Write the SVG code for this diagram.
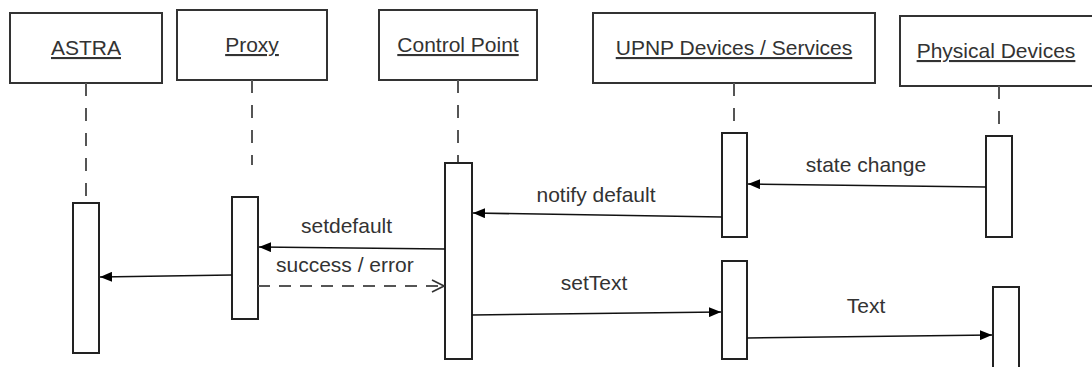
<svg xmlns="http://www.w3.org/2000/svg" width="1092" height="367" viewBox="0 0 1092 367">
<style>
.hdr{fill:#fff;stroke:#333;stroke-width:2}
.act{fill:#fff;stroke:#222;stroke-width:2}
.life{stroke:#555;stroke-width:2;stroke-dasharray:13 12;fill:none}
.lbl{font-family:"Liberation Sans",Arial,sans-serif;font-size:21px;fill:#333}
.hl{text-decoration:underline;text-anchor:middle}
.msg{stroke:#111;stroke-width:1.6;fill:none}
.ret{stroke:#555;stroke-width:1.8;fill:none;stroke-dasharray:12 9}
</style>
<defs>
<marker id="filled" viewBox="0 0 12 10" refX="12" refY="5" markerWidth="12" markerHeight="10" markerUnits="userSpaceOnUse" orient="auto">
<path d="M0,0 L12,5 L0,10 Z" fill="#000"/>
</marker>
<marker id="open" viewBox="0 0 14 14" refX="13" refY="7" markerWidth="14" markerHeight="14" markerUnits="userSpaceOnUse" orient="auto">
<path d="M1,1 L13,7 L1,13" fill="none" stroke="#333" stroke-width="1.6"/>
</marker>
</defs>

<g id="astra">
<rect class="hdr" x="10" y="13" width="152" height="70"/>
<text class="lbl hl" x="86" y="55">ASTRA</text>
<line class="life" x1="86" y1="83" x2="86" y2="203"/>
<rect class="act" x="73" y="203" width="26" height="150"/>
</g>

<g id="proxy">
<rect class="hdr" x="177" y="10" width="150" height="70"/>
<text class="lbl hl" x="252" y="52">Proxy</text>
<line class="life" x1="252" y1="80" x2="252" y2="165"/>
<rect class="act" x="232" y="197" width="26" height="122"/>
</g>

<g id="control-point">
<rect class="hdr" x="379" y="10" width="158" height="70"/>
<text class="lbl hl" x="458" y="52">Control Point</text>
<line class="life" x1="458" y1="80" x2="458" y2="163"/>
<rect class="act" x="445" y="163" width="27" height="196"/>
</g>

<g id="upnp">
<rect class="hdr" x="593" y="13" width="282" height="70"/>
<text class="lbl hl" x="734" y="55">UPNP Devices / Services</text>
<line class="life" x1="734" y1="83" x2="734" y2="133"/>
<rect class="act" x="722" y="133" width="25" height="104"/>
<rect class="act" x="722" y="261" width="25" height="98"/>
</g>

<g id="physical">
<rect class="hdr" x="900" y="16" width="200" height="70"/>
<text class="lbl hl" x="996" y="58">Physical Devices</text>
<line class="life" x1="999" y1="86" x2="999" y2="136"/>
<rect class="act" x="986" y="136" width="26" height="101"/>
<rect class="act" x="993" y="287" width="26" height="90"/>
</g>

<g id="connectors">
<line class="msg" x1="986" y1="187" x2="748" y2="184" marker-end="url(#filled)"/>
<text class="lbl" x="866" y="172" text-anchor="middle">state change</text>

<line class="msg" x1="722" y1="217" x2="473" y2="213" marker-end="url(#filled)"/>
<text class="lbl" x="596" y="202" text-anchor="middle">notify default</text>

<line class="msg" x1="445" y1="249" x2="259" y2="247" marker-end="url(#filled)"/>
<text class="lbl" x="301" y="233">setdefault</text>

<line class="ret" x1="258" y1="286" x2="444" y2="286" marker-end="url(#open)"/>
<text class="lbl" x="276" y="272">success / error</text>

<line class="msg" x1="232" y1="275" x2="100" y2="277" marker-end="url(#filled)"/>

<line class="msg" x1="472" y1="315" x2="721" y2="312" marker-end="url(#filled)"/>
<text class="lbl" x="594" y="290" text-anchor="middle">setText</text>

<line class="msg" x1="747" y1="338" x2="992" y2="335" marker-end="url(#filled)"/>
<text class="lbl" x="866" y="313" text-anchor="middle">Text</text>
</g>
</svg>
